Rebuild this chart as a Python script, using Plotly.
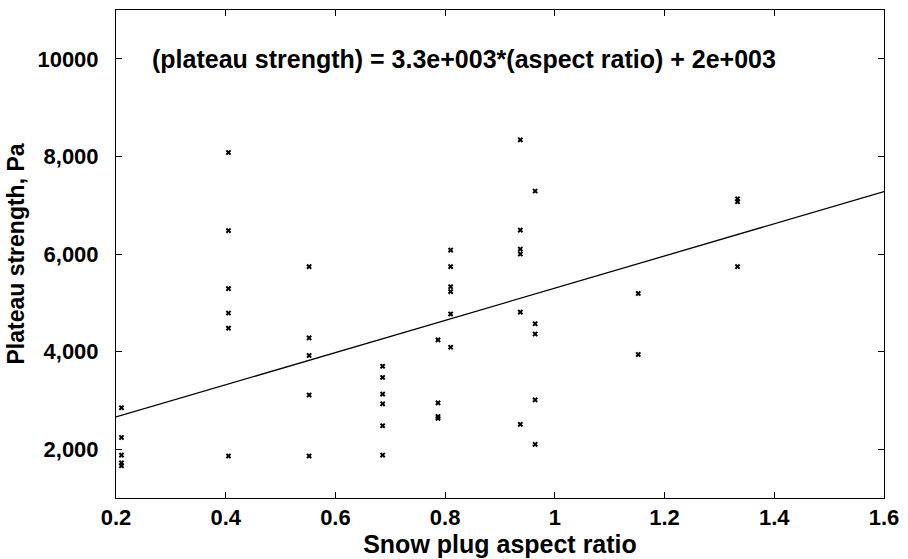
import plotly.graph_objects as go

# Measured snow plugs: aspect ratio vs. plateau strength (Pa)
aspect_ratio = [
    0.21, 0.21, 0.21, 0.21, 0.21,
    0.405, 0.405, 0.405, 0.405, 0.405, 0.405,
    0.552, 0.552, 0.552, 0.552, 0.552,
    0.686, 0.686, 0.686, 0.686, 0.686, 0.686,
    0.787, 0.787, 0.787, 0.787,
    0.81, 0.81, 0.81, 0.81, 0.81, 0.81,
    0.937, 0.937, 0.937, 0.937, 0.937, 0.937,
    0.964, 0.964, 0.964, 0.964, 0.964,
    1.152, 1.152,
    1.333, 1.333, 1.333,
]
plateau_strength = [
    2850, 2240, 1880, 1720, 1660,
    8080, 6480, 5290, 4790, 4480, 1860,
    5740, 4280, 3920, 3110, 1860,
    3700, 3470, 3130, 2930, 2480, 1880,
    4240, 2950, 2670, 2630,
    6080, 5740, 5330, 5230, 4770, 4090,
    8340, 6490, 6100, 6000, 4810, 2510,
    7290, 4570, 4360, 3010, 2100,
    5190, 3940,
    7130, 7070, 5740,
]

# Linear fit: (plateau strength) = slope*(aspect ratio) + intercept
fit_slope = 3.3e3
fit_intercept = 2e3
fit_x = [0.2, 1.6]
fit_y = [fit_slope * v + fit_intercept for v in fit_x]

x_ticks = [0.2, 0.4, 0.6, 0.8, 1.0, 1.2, 1.4, 1.6]
x_tick_text = ["0.2", "0.4", "0.6", "0.8", "1", "1.2", "1.4", "1.6"]
y_ticks = [2000, 4000, 6000, 8000, 10000]
y_tick_text = ["2,000", "4,000", "6,000", "8,000", "10000"]

FONT = "Liberation Sans, Arial, Helvetica, sans-serif"

fig = go.Figure()
fig.add_trace(go.Scatter(
    x=aspect_ratio, y=plateau_strength, mode="markers",
    marker=dict(symbol="x", size=5, color="black"),
    showlegend=False,
))
fig.add_trace(go.Scatter(
    x=fit_x, y=fit_y, mode="lines",
    line=dict(color="black", width=1.3),
    showlegend=False,
))

axis_common = dict(
    showline=True, linecolor="black", linewidth=1,
    mirror="ticks", ticks="inside", ticklen=6, tickwidth=1, tickcolor="black",
    showgrid=False, zeroline=False,
    tickfont=dict(family=FONT, size=22, color="black", weight="bold"),
)

fig.update_xaxes(
    range=[0.2, 1.6], tickvals=x_ticks, ticktext=x_tick_text,
    title=dict(text="Snow plug aspect ratio", standoff=2,
               font=dict(family=FONT, size=25, color="black", weight="bold")),
    **axis_common,
)
fig.update_yaxes(
    range=[1000, 11000], tickvals=y_ticks, ticktext=y_tick_text,
    ticklabelstandoff=12,
    title=dict(text="Plateau strength, Pa", standoff=6,
               font=dict(family=FONT, size=23, color="black", weight="bold")),
    **axis_common,
)

fig.add_annotation(
    x=0.044, xref="paper", y=10000, yref="y",
    text="(plateau strength) = 3.3e+003*(aspect ratio) + 2e+003",
    showarrow=False, xanchor="left", yanchor="middle",
    font=dict(family=FONT, size=25, color="black", weight="bold"),
)

fig.update_layout(
    width=908, height=559,
    margin=dict(l=116, r=21, t=9, b=55),
    paper_bgcolor="white", plot_bgcolor="white",
)

fig.write_html("out.html")
